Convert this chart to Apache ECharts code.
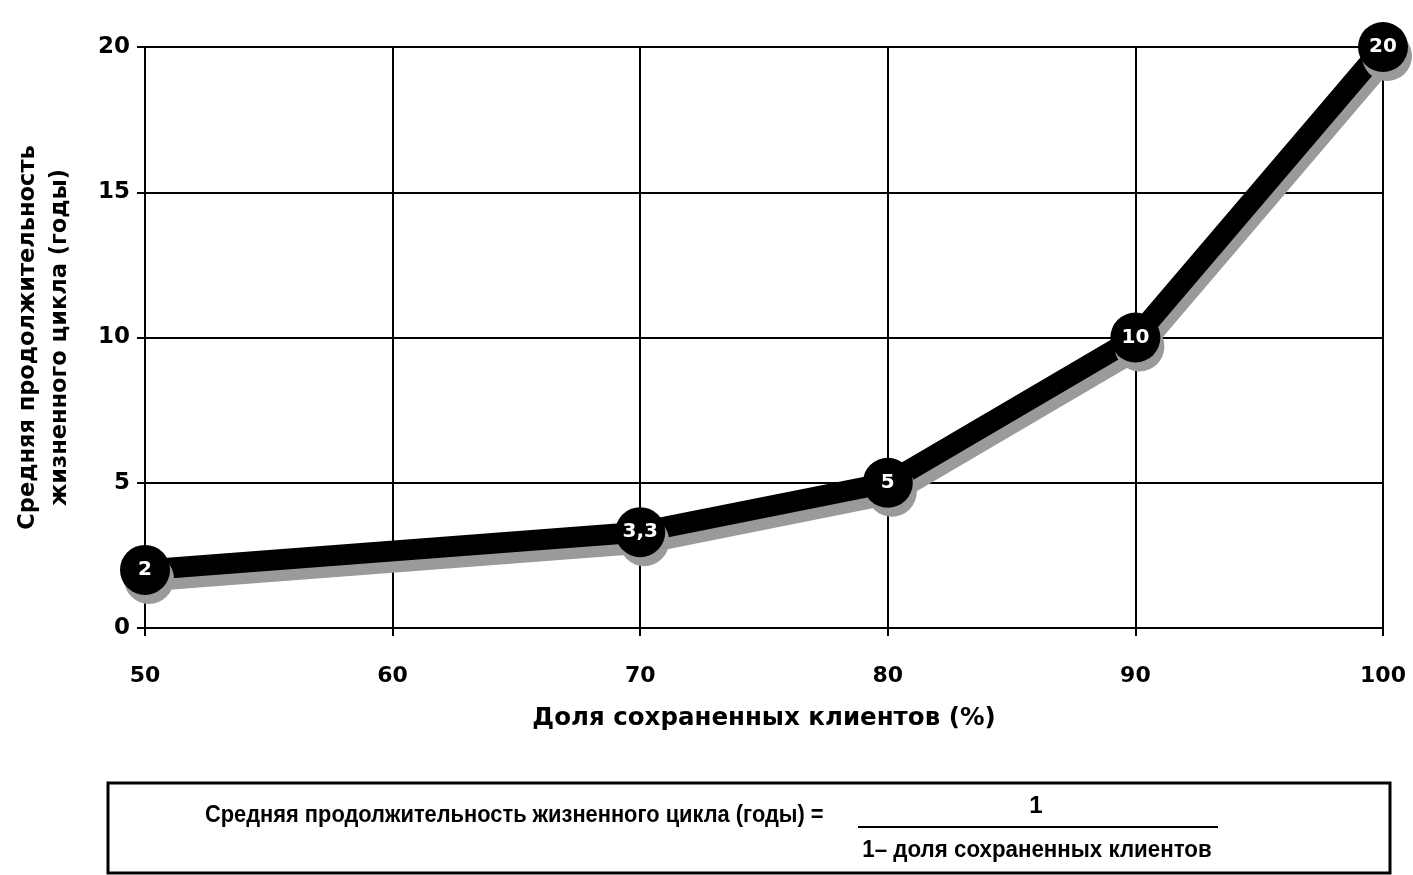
<!DOCTYPE html>
<html><head><meta charset="utf-8">
<script src="https://cdn.jsdelivr.net/npm/echarts@6/dist/echarts.min.js"></script>
<style>html,body{margin:0;padding:0;background:#fff}#c{width:1413px;height:875px}</style>
</head><body><div id="c"></div>
<script>
const retention = [50, 70, 80, 90, 100];
const lifetime = [2, 3.3, 5, 10, 20];
const lifetimeLabels = ['2', '3,3', '5', '10', '20'];
const xTicks = [50, 60, 70, 80, 90, 100];
const yTicks = [0, 5, 10, 15, 20];
const xName = 'Доля сохраненных клиентов (%)';
const yName = 'Средняя продолжительность\nжизненного цикла (годы)';
const formulaLeft = 'Средняя продолжительность жизненного цикла (годы) =';
const formulaNum = '1';
const formulaDen = '1– доля сохраненных клиентов';

const chart = echarts.init(document.getElementById('c'));
const FONT = '"DejaVu Sans", Verdana, sans-serif';
const NARROW = '"Liberation Sans", Arial, sans-serif';
chart.setOption({
  animation: false,
  grid: {left: 145, right: 30, top: 47, bottom: 247, outerBoundsMode: 'none', containLabel: false},
  xAxis: {
    type: 'value', min: xTicks[0], max: xTicks[xTicks.length-1], interval: 10,
    axisLine: {lineStyle: {color: '#000', width: 2}},
    axisTick: {show: true, length: 8, lineStyle: {color: '#000', width: 2}},
    splitLine: {show: true, lineStyle: {color: '#000', width: 2}},
    axisLabel: {color: '#000', fontSize: 22, fontWeight: 'bold', fontFamily: FONT, margin: 37},
    name: xName, nameLocation: 'middle', nameGap: 78,
    nameTextStyle: {color: '#000', fontSize: 24.5, fontWeight: 'bold', fontFamily: FONT}
  },
  yAxis: {
    type: 'value', min: yTicks[0], max: yTicks[yTicks.length-1], interval: 5,
    axisLine: {show: true, lineStyle: {color: '#000', width: 2}},
    axisTick: {show: true, length: 8, lineStyle: {color: '#000', width: 2}},
    splitLine: {show: true, lineStyle: {color: '#000', width: 2}},
    axisLabel: {color: '#000', fontSize: 23, fontWeight: 'bold', fontFamily: FONT, margin: 15},
    name: yName, nameLocation: 'middle', nameGap: 69, nameRotate: 90,
    nameTextStyle: {color: '#000', fontSize: 22.5, fontWeight: 'bold', fontFamily: FONT, lineHeight: 32}
  },
  series: [{
    type: 'line',
    data: retention.map((x, i) => [x, lifetime[i]]),
    symbol: 'circle', symbolSize: 50,
    lineStyle: {color: '#000', width: 21, shadowColor: '#9a9a9a', shadowBlur: 0, shadowOffsetX: 4, shadowOffsetY: 11},
    itemStyle: {color: '#000', shadowColor: '#9a9a9a', shadowBlur: 0, shadowOffsetX: 4, shadowOffsetY: 9},
    label: {
      show: true, position: 'inside', color: '#fff', fontSize: 20, fontWeight: 'bold', fontFamily: FONT,
      formatter: p => lifetimeLabels[p.dataIndex]
    },
    z: 5
  }],
  graphic: [
    {type: 'rect', shape: {x: 108, y: 783, width: 1282, height: 90}, style: {fill: 'none', stroke: '#000', lineWidth: 3}},
    {type: 'text', x: 205, y: 815, scaleX: 0.91, style: {text: formulaLeft, font: 'bold 24px ' + NARROW, fill: '#000', textVerticalAlign: 'middle'}},
    {type: 'line', shape: {x1: 858, y1: 827, x2: 1218, y2: 827}, style: {stroke: '#000', lineWidth: 2}},
    {type: 'text', x: 1036, y: 806, style: {text: formulaNum, font: 'bold 24px ' + NARROW, fill: '#000', textAlign: 'center', textVerticalAlign: 'middle'}},
    {type: 'text', x: 1037, y: 850, scaleX: 0.93, style: {text: formulaDen, font: 'bold 24px ' + NARROW, fill: '#000', textAlign: 'center', textVerticalAlign: 'middle'}}
  ]
});
</script></body></html>
